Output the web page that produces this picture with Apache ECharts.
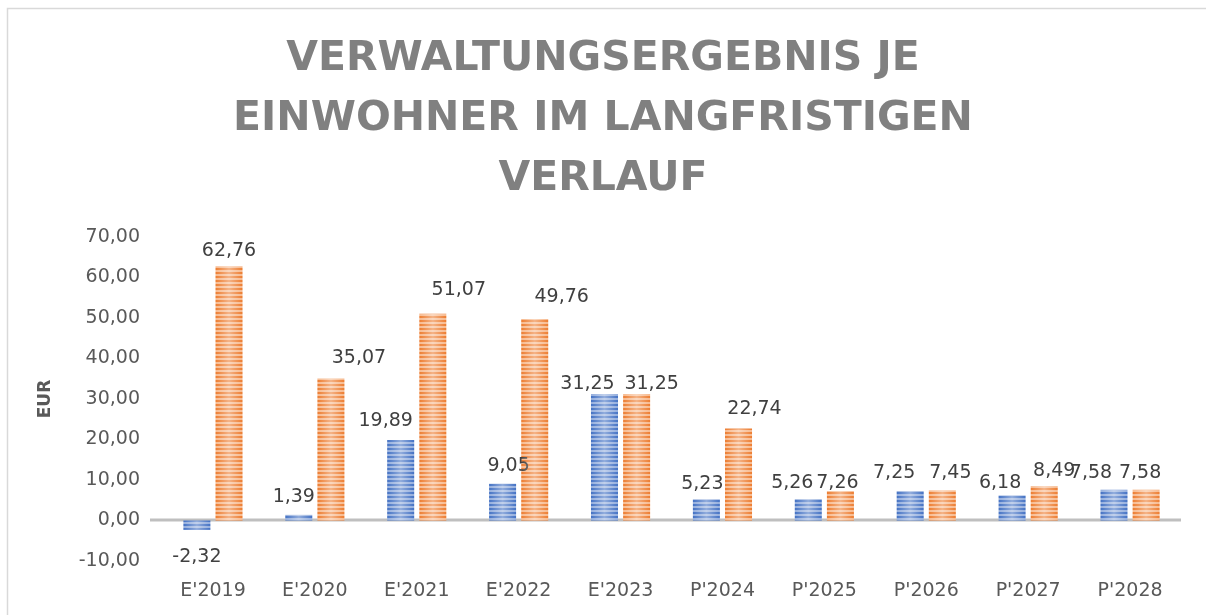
<!DOCTYPE html>
<html>
<head>
<meta charset="utf-8">
<script src="https://cdn.jsdelivr.net/npm/echarts@6/dist/echarts.min.js"></script>
<style>
html,body{margin:0;padding:0;background:#fff;}
#c{width:1206px;height:615px;}
</style>
</head>
<body>
<div id="c"></div>
<script>
const categories = ["E'2019","E'2020","E'2021","E'2022","E'2023","P'2024","P'2025","P'2026","P'2027","P'2028"];
const seriesA = [-2.32, 1.39, 19.89, 9.05, 31.25, 5.23, 5.26, 7.25, 6.18, 7.58];
const seriesB = [62.76, 35.07, 51.07, 49.76, 31.25, 22.74, 7.26, 7.45, 8.49, 7.58];
const yTicks = [-10, 0, 10, 20, 30, 40, 50, 60, 70];
const titleLines = ["VERWALTUNGSERGEBNIS JE", "EINWOHNER IM LANGFRISTIGEN", "VERLAUF"];

// manual data-label nudges [dx, dy] in px (labels were hand-placed in the original)
const labelShiftA = [[0,0],[-5,-1],[-15,-2],[6,-1],[-17,7],[-4,1],[-16,0],[-16,-2],[-12,4],[-23,0]];
const labelShiftB = [[0,1],[28,-4],[26,-7],[27,-5],[15,7],[16,-3],[-3,8],[8,-1],[10,1],[-6,0]];

const fmt = v => v.toFixed(2).replace('.', ',');
const FONT = '"DejaVu Sans", sans-serif';

function stripes(dark, light) {
  const c = document.createElement('canvas');
  c.width = 4; c.height = 4;
  const ctx = c.getContext('2d');
  ctx.fillStyle = light; ctx.fillRect(0, 0, 4, 4);
  ctx.fillStyle = dark; ctx.fillRect(0, 0, 4, 2);
  return {image: c, repeat: 'repeat'};
}
const sheen = new echarts.graphic.LinearGradient(0, 0, 1, 0, [
  {offset: 0, color: 'rgba(255,255,255,0)'},
  {offset: 0.5, color: 'rgba(255,255,255,0.42)'},
  {offset: 1, color: 'rgba(255,255,255,0)'}
]);

function withLabels(values, shifts) {
  return values.map((v, i) => ({
    value: v,
    label: v < 0
      ? {position: 'bottom', distance: 18, offset: shifts[i]}
      : {offset: shifts[i]}
  }));
}

const BW = 27, GAP = '19%';
const labelStyle = {show: true, position: 'top', distance: 7, fontFamily: FONT, fontSize: 19, color: '#404040', formatter: p => fmt(p.value)};
const chart = echarts.init(document.getElementById('c'), null, {renderer: 'canvas'});
chart.setOption({
  animation: false,
  backgroundColor: '#fff',
  title: {
    text: titleLines.join('\n'),
    left: 'center',
    top: 24,
    textStyle: {fontFamily: FONT, fontSize: 41, fontWeight: 'bold', color: '#808080', lineHeight: 60}
  },
  graphic: [{
    type: 'rect', shape: {x: 7.5, y: 8.5, width: 1300, height: 700},
    style: {fill: 'none', stroke: '#D9D9D9', lineWidth: 1.5}, silent: true, z: -1
  }, {
    type: 'line', shape: {x1: 150, y1: 520, x2: 1181, y2: 520},
    style: {stroke: '#BFBFBF', lineWidth: 3}, silent: true, z: 1
  }],
  grid: {left: 162, right: 25, top: 237, bottom: 54, containLabel: false},
  xAxis: [{
    type: 'category', data: categories,
    axisLine: {show: false, onZero: false}, axisTick: {show: false},
    axisLabel: {fontFamily: FONT, fontSize: 19, color: '#595959', margin: 21}
  }, {
    type: 'category', data: categories, show: false
  }],
  yAxis: {
    type: 'value', min: yTicks[0], max: yTicks[yTicks.length - 1], interval: 10,
    name: 'EUR', nameLocation: 'middle', nameRotate: 90, nameGap: 108,
    nameTextStyle: {fontFamily: FONT, fontSize: 17, fontWeight: 'bold', color: '#595959'},
    splitLine: {show: false}, axisLine: {show: false}, axisTick: {show: false},
    axisLabel: {fontFamily: FONT, fontSize: 19, color: '#595959', margin: 22, formatter: v => fmt(v)}
  },
  series: [{
    type: 'bar', name: 'A', barWidth: BW, barGap: GAP, xAxisIndex: 0, z: 2,
    data: withLabels(seriesA, labelShiftA),
    itemStyle: {color: stripes('#4472C4', '#94AEDD')},
    label: labelStyle
  }, {
    type: 'bar', name: 'B', barWidth: BW, barGap: GAP, xAxisIndex: 0, z: 2,
    data: withLabels(seriesB, labelShiftB),
    itemStyle: {color: stripes('#ED7D31', '#F7BA8F')},
    label: labelStyle
  }, {
    type: 'bar', name: 'A2', barWidth: BW, barGap: GAP, xAxisIndex: 1, z: 3, silent: true,
    data: seriesA, itemStyle: {color: sheen}
  }, {
    type: 'bar', name: 'B2', barWidth: BW, barGap: GAP, xAxisIndex: 1, z: 3, silent: true,
    data: seriesB, itemStyle: {color: sheen}
  }]
});
</script>
</body>
</html>
